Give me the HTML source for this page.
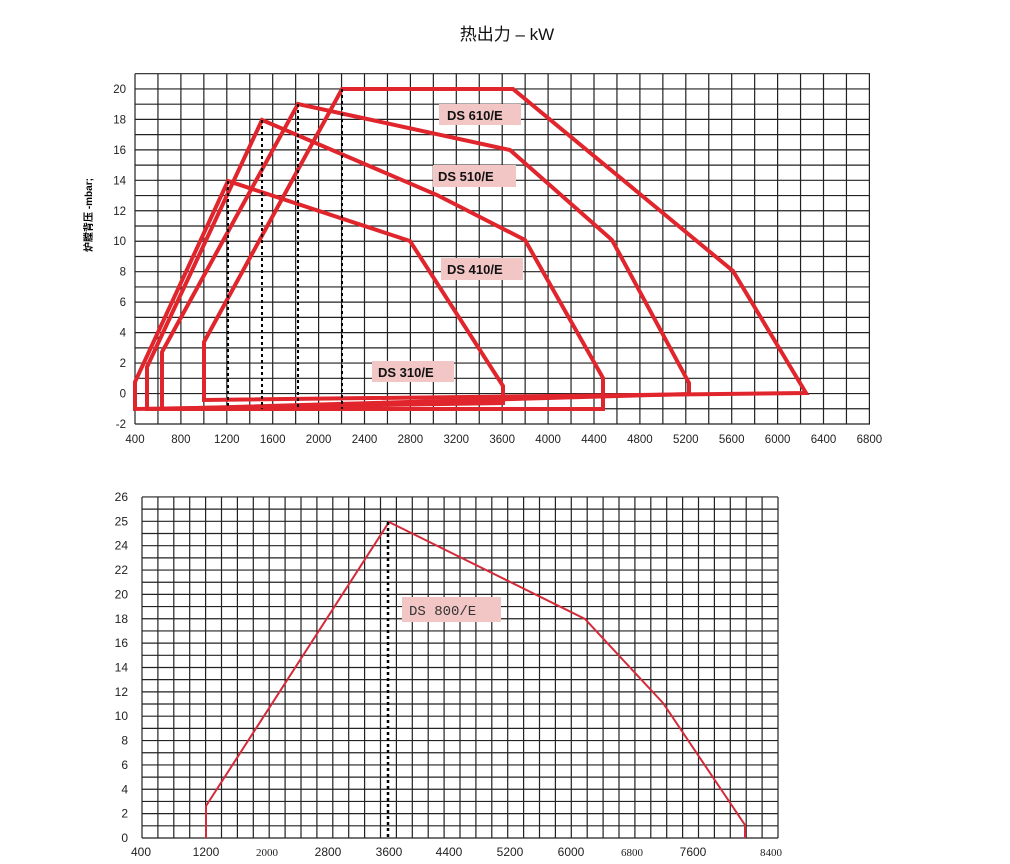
<!DOCTYPE html>
<html><head><meta charset="utf-8"><style>
body{margin:0;background:#fff;width:1010px;height:864px;overflow:hidden}
svg{display:block}
text{font-family:"Liberation Sans","Noto Sans CJK SC",sans-serif}
</style></head><body>
<svg width="1010" height="864" xmlns="http://www.w3.org/2000/svg">
<text x="507" y="40" font-size="17" text-anchor="middle" fill="#111">热出力 – kW</text>
<g id="g1" stroke="#222" stroke-width="1.2"></g>
<g id="g2" stroke="#222" stroke-width="1.2"></g>
<text transform="translate(92,215) rotate(-90)" font-size="10" font-weight="bold" text-anchor="middle" fill="#000">炉膛背压 -mbar;</text>
<g font-size="11.5" fill="#222" text-anchor="end" id="yl1"></g>
<g font-size="11.5" fill="#222" text-anchor="middle" id="xl1"></g>
<g fill="none" stroke="#e0252c" stroke-width="4" stroke-linejoin="miter">
<path d="M135,409 L135,382 L228,181 L410,241 L503,386 L503,403 Z"/>
<path d="M147,409 L147,367 L262,120 L437,195 L525,240 L603,378 L603,409 Z"/>
<path d="M162,409 L162,352 L298,104 L510,150 L612,240 L689,383 L689,394 Z"/>
<path d="M204,400 L204,342 L342,89 L513,89 L733,271 L806,393 Z"/>
</g>
<g stroke="#000" stroke-width="2" stroke-dasharray="3,3">
<line x1="228" y1="181" x2="228" y2="409"/><line x1="262" y1="120" x2="262" y2="409"/>
<line x1="298" y1="104" x2="298" y2="409"/><line x1="342" y1="89" x2="342" y2="409"/>
</g>
<g font-size="13" font-weight="bold" fill="#111">
<rect x="439" y="104" width="82" height="21" fill="#f3c6c6"/><text x="447" y="120">DS 610/E</text>
<rect x="433" y="165" width="83" height="22" fill="#f3c6c6"/><text x="438" y="181">DS 510/E</text>
<rect x="441" y="258" width="82" height="22" fill="#f3c6c6"/><text x="447" y="274">DS 410/E</text>
<rect x="372" y="361" width="82" height="21" fill="#f3c6c6"/><text x="378" y="377">DS 310/E</text>
</g>
<g font-size="12" fill="#222" text-anchor="end" id="yl2" style="font-family:'Liberation Serif',serif"></g>
<g font-size="12" fill="#222" text-anchor="middle" id="xl2"></g>
<path d="M206,838 L206,806 L389,522 L585,619 L663,703 L745,825 L745,838" fill="none" stroke="#d42a3a" stroke-width="2"/>
<line x1="388" y1="522" x2="388" y2="838" stroke="#000" stroke-width="2.5" stroke-dasharray="3,3"/>
<rect x="402" y="597" width="99" height="25" fill="#f3c6c6"/>
<text x="409" y="615" font-size="14" fill="#333" style="font-family:'Liberation Mono',monospace">DS 800/E</text>
</svg>
<script>
const NS="http://www.w3.org/2000/svg";
function el(p,t,a,txt){const e=document.createElementNS(NS,t);for(const k in a)e.setAttribute(k,a[k]);if(txt!==undefined)e.textContent=txt;document.getElementById(p).appendChild(e);return e;}
for(let i=0;i<=32;i++){const x=135+i*22.95;el('g1','line',{x1:x,y1:73.7,x2:x,y2:424});}
for(let k=0;k<=23;k++){const y=424-k*15.23;el('g1','line',{x1:135,y1:y,x2:870,y2:y});}
for(let v=-2;v<=20;v+=2){el('yl1','text',{x:126,y:424-(v+2)*15.23+4},v);}
for(let v=400;v<=6800;v+=400){el('xl1','text',{x:135+(v-400)*0.11475,y:443},v);}
for(let i=0;i<=40;i++){const x=142+i*15.9;el('g2','line',{x1:x,y1:497,x2:x,y2:838});}
for(let k=0;k<=28;k++){const y=838-k*12.18;el('g2','line',{x1:142,y1:y,x2:778,y2:y});}
const yl=[0,2,4,6,8,10,12,14,16,18,20,22,24,25,26];
yl.forEach((v,i)=>el('yl2','text',{x:128,y:838-i*24.36+4},v));
const xs=[[400,141],[1200,206],[2000,267],[2800,328],[3600,389],[4400,449],[5200,510],[6000,571],[6800,632],[7600,693],[8400,771]];
xs.forEach(([v,x])=>{const e=el('xl2','text',{x:x,y:856},v);if(v==2000||v==6800||v==8400){e.setAttribute('style',"font-family:'Liberation Serif',serif");e.setAttribute('font-size','11');}});
</script>
</body></html>
